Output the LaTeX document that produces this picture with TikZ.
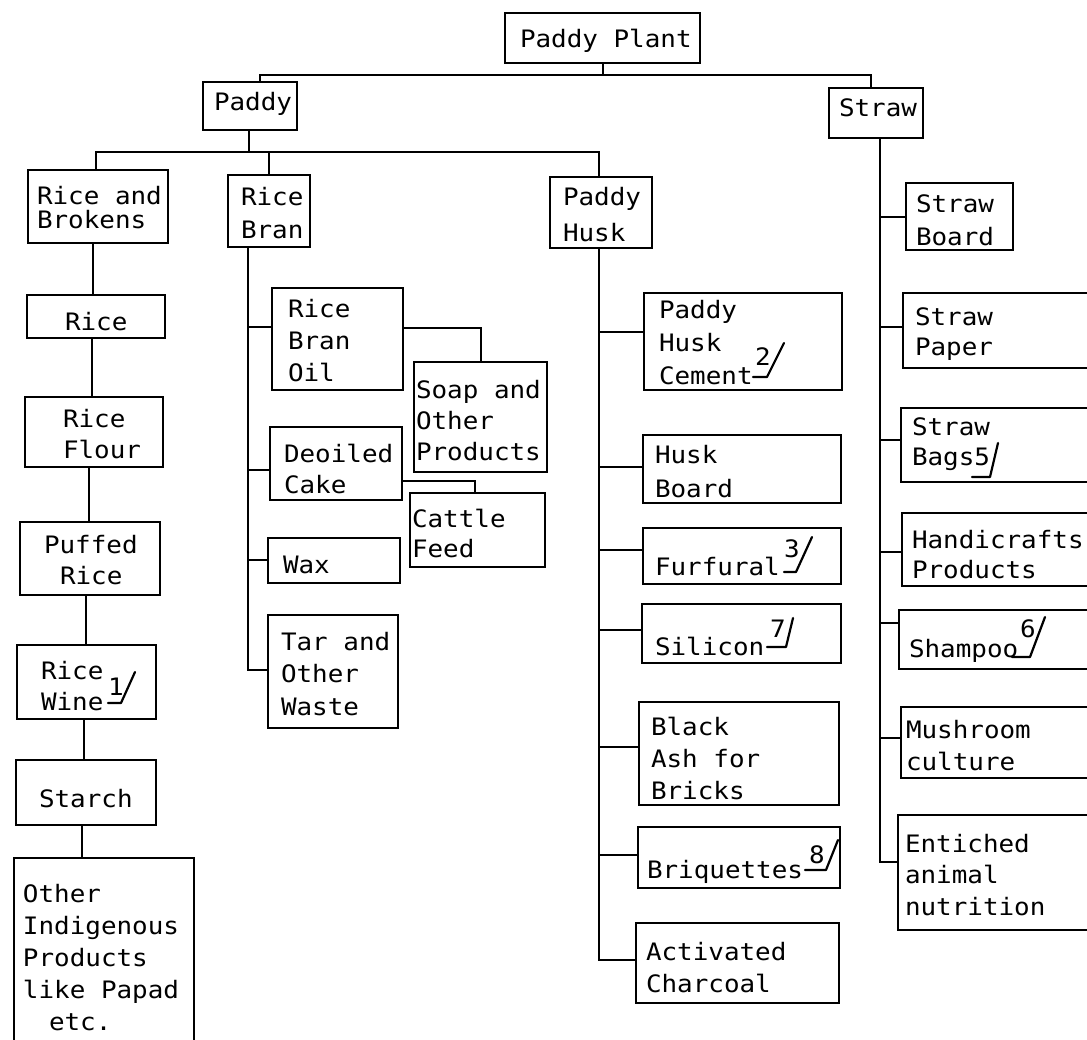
\documentclass[tikz,border=0pt]{standalone}
\usepackage{fontspec}
\newfontfamily\mono[FakeStretch=1.08]{DejaVu Sans Mono}
\tikzset{
  box/.style={draw=black, line width=1.9pt, inner sep=0pt, outer sep=0pt, rectangle},
  ln/.style={draw=black, line width=1.9pt},
  tickmark/.style={draw=black, line width=2.2pt, line join=round, line cap=round},
  txt/.style={inner sep=0pt, outer sep=0pt, anchor=base west, font=\mono\fontsize{24}{32}\selectfont, text=black},
}
\newcommand\bx[5]{\node[box, minimum width={(#4-#2)*1pt}, minimum height={(#5-#3)*1pt}, anchor=north west] (#1) at (#2,#3) {};}
\newcommand\tx[5]{\node[txt] (#1) at (#2,#3) {\vtop{\baselineskip=#4pt\relax\let\\\cr\halign{##\hfil\cr#5\crcr}}};}
\begin{document}
\begin{tikzpicture}[x=1pt,y=-1pt]
\useasboundingbox (0,0) rectangle (1087,1039);
\fill[white] (0,0) rectangle (1087,1039);
\clip (0,0) rectangle (1087,1039);
% boxes
\bx{PP}{505}{13}{700}{63}
\bx{P}{203}{82}{297}{130}
\bx{S}{829}{88}{923}{138}
\bx{RB}{28}{170}{168}{243}
\bx{RBr}{228}{175}{310}{247}
\bx{PH}{550}{177}{652}{248}
\bx{SB}{906}{183}{1013}{250}
\bx{R}{27}{295}{165}{338}
\bx{RF}{25}{397}{163}{467}
\bx{PR}{20}{522}{160}{595}
\bx{RW}{17}{645}{156}{719}
\bx{ST}{16}{760}{156}{825}
\bx{OI}{14}{858}{194}{1060}
\bx{RBO}{272}{288}{403}{390}
\bx{DC}{270}{427}{402}{500}
\bx{WX}{268}{538}{400}{583}
\bx{TAR}{268}{615}{398}{728}
\bx{SOAP}{414}{362}{547}{472}
\bx{CF}{410}{493}{545}{567}
\bx{PHC}{644}{293}{842}{390}
\bx{HB}{643}{435}{841}{503}
\bx{FU}{643}{528}{841}{584}
\bx{SI}{642}{604}{841}{663}
\bx{BA}{639}{702}{839}{805}
\bx{BQ}{638}{827}{840}{888}
\bx{AC}{636}{923}{839}{1003}
\bx{SP}{903}{293}{1110}{368}
\bx{SBG}{901}{408}{1110}{482}
\bx{HC}{902}{513}{1110}{586}
\bx{SH}{899}{610}{1110}{669}
\bx{MC}{901}{707}{1110}{778}
\bx{EN}{898}{815}{1110}{930}
% texts
\tx{tPP}{520}{47}{32}{Paddy Plant}
\tx{tP}{214}{110}{32}{Paddy}
\tx{tS}{839}{116}{32}{Straw}
\tx{tRB}{37}{204}{24}{Rice and\\Brokens}
\tx{tRBr}{241}{205}{33}{Rice\\Bran}
\tx{tPH}{563}{205}{36}{Paddy\\Husk}
\tx{tSB}{916}{212}{33}{Straw\\Board}
\tx{tR}{65}{330}{32}{Rice}
\tx{tRF}{63}{427}{31}{Rice\\Flour}
\tx{tPRa}{44}{553}{32}{Puffed}
\tx{tPRb}{60}{584}{32}{Rice}
\tx{tRW}{41}{679}{31}{Rice\\Wine}
\tx{tST}{39}{807}{32}{Starch}
\tx{tOI}{23}{902}{32}{Other\\Indigenous\\Products\\like Papad}
\tx{tOIb}{49}{1030}{32}{etc.}
\tx{tRBO}{288}{317}{32}{Rice\\Bran\\Oil}
\tx{tDC}{284}{462}{31}{Deoiled\\Cake}
\tx{tWX}{283}{573}{32}{Wax}
\tx{tTAR}{281}{650}{32.5}{Tar and\\Other\\Waste}
\tx{tSOAP}{416}{398}{31}{Soap and\\Other\\Products}
\tx{tCF}{412}{527}{30}{Cattle\\Feed}
\tx{tPHC}{659}{318}{33}{Paddy\\Husk\\Cement}
\tx{tHB}{655}{463}{34}{Husk\\Board}
\tx{tFU}{655}{575}{32}{Furfural}
\tx{tSI}{655}{655}{32}{Silicon}
\tx{tBA}{651}{735}{32}{Black\\Ash for\\Bricks}
\tx{tBQ}{647}{878}{32}{Briquettes}
\tx{tAC}{646}{960}{32}{Activated\\Charcoal}
\tx{tSP}{915}{325}{30}{Straw\\Paper}
\tx{tSBG}{912}{435}{30}{Straw\\Bags5}
\tx{tHC}{912}{548}{30}{Handicrafts\\Products}
\tx{tSH}{909}{657}{32}{Shampoo}
\tx{tMC}{906}{738}{32}{Mushroom\\culture}
\tx{tEN}{905}{852}{31.5}{Entiched\\animal\\nutrition}
% footnote marks
\tx{m1}{108}{695}{32}{1}
\tx{m2}{755}{365}{32}{2}
\tx{m3}{784}{557}{32}{3}
\tx{m7}{770}{637}{32}{7}
\tx{m6}{1020}{637}{32}{6}
\tx{m8}{809}{863}{32}{8}
\draw[tickmark] (m1.south west |- 0,703) -- (121,703) -- (135,672);
\draw[tickmark] (753,377) -- (767,377) -- (784,343);
\draw[tickmark] (784,572) -- (796,572) -- (812,537);
\draw[tickmark] (767,647) -- (786,647) -- (793,618);
\draw[tickmark] (972,477) -- (990,477) -- (998,443);
\draw[tickmark] (1012,657) -- (1030,657) -- (1045,617);
\draw[tickmark] (805,870) -- (826,870) -- (838,840);
% top level connectors
\coordinate (j0) at (603,75);
\draw[ln] (PP.south -| j0) -- (j0);
\draw[ln] (P.north -| 260,0) -- (260,75) -- (871,75) -- (S.north -| 871,0);
% paddy to its products
\draw[ln] (P.south -| 249,0) -- (249,152);
\draw[ln] (RB.north -| 96,0) -- (96,152) -- (599,152) -- (PH.north -| 599,0);
\coordinate (j1) at (269,152);
\draw[ln] (j1) -- (RBr.north -| j1);
% rice column
\draw[ln] (RB.south -| 93,0) -- (R.north -| 93,0);
\draw[ln] (R.south -| 92,0) -- (RF.north -| 92,0);
\draw[ln] (RF.south -| 89,0) -- (PR.north -| 89,0);
\draw[ln] (PR.south -| 86,0) -- (RW.north -| 86,0);
\draw[ln] (RW.south -| 84,0) -- (ST.north -| 84,0);
\draw[ln] (ST.south -| 82,0) -- (OI.north -| 82,0);
% rice bran trunk
\draw[ln] (RBr.south -| 248,0) -- (248,670) -- (TAR.west |- 0,670);
\draw[ln] (248,327) -- (RBO.west |- 0,327);
\draw[ln] (248,470) -- (DC.west |- 0,470);
\draw[ln] (248,560) -- (WX.west |- 0,560);
\draw[ln] (RBO.east |- 0,328) -- (481,328) -- (SOAP.north -| 481,0);
\draw[ln] (DC.east |- 0,481) -- (475,481) -- (CF.north -| 475,0);
% paddy husk trunk
\draw[ln] (PH.south -| 599,0) -- (599,960) -- (AC.west |- 0,960);
\draw[ln] (599,332) -- (PHC.west |- 0,332);
\draw[ln] (599,467) -- (HB.west |- 0,467);
\draw[ln] (599,550) -- (FU.west |- 0,550);
\draw[ln] (599,630) -- (SI.west |- 0,630);
\draw[ln] (599,747) -- (BA.west |- 0,747);
\draw[ln] (599,855) -- (BQ.west |- 0,855);
% straw trunk
\draw[ln] (S.south -| 880,0) -- (880,862) -- (EN.west |- 0,862);
\draw[ln] (880,217) -- (SB.west |- 0,217);
\draw[ln] (880,327) -- (SP.west |- 0,327);
\draw[ln] (880,440) -- (SBG.west |- 0,440);
\draw[ln] (880,552) -- (HC.west |- 0,552);
\draw[ln] (880,623) -- (SH.west |- 0,623);
\draw[ln] (880,738) -- (MC.west |- 0,738);
\end{tikzpicture}
\end{document}
